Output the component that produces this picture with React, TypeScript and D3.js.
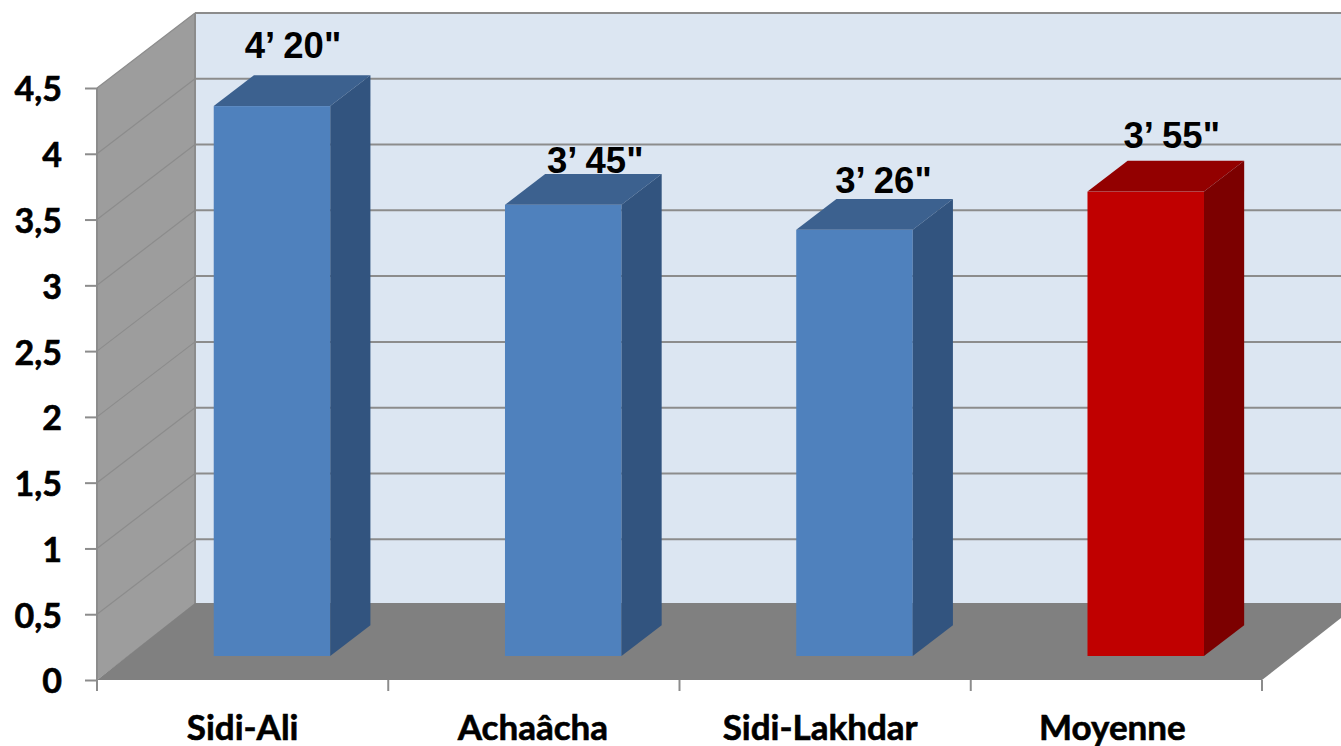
import React, { useEffect, useRef } from "react";
import * as d3 from "d3";

const width = 1341;
const height = 746;

const categories = ["Sidi-Ali", "Achaâcha", "Sidi-Lakhdar", "Moyenne"];
const values = [4.18, 3.43, 3.24, 3.53];
const valueLabels = ["4’ 20\"", "3’ 45\"", "3’ 26\"", "3’ 55\""];
const yTicks = [0, 0.5, 1, 1.5, 2, 2.5, 3, 3.5, 4, 4.5];

// manual label placement, relative to the bar's top front edge
const labelDx = [21, 32, 29, 26];
const labelDy = [-48, -32, -37, -44];
const categoryDx = [0, -1, -5, -4];

const blue = { front: "#4f81bd", side: "#32547f", top: "#3c618f" };
const red = { front: "#c00000", side: "#7c0000", top: "#930000" };

const x = d3.scaleBand<string>().domain(categories).range([97, 1262]).paddingInner(0.6).paddingOuter(0.3);
const y = d3.scaleLinear().domain([0, 4.5]).range([680, 88]);

// depth of the 3d box: 0 = front edge of floor, 1 = back wall
const depthX = d3.scaleLinear().domain([0, 1]).range([0, 98]);
const depthY = d3.scaleLinear().domain([0, 1]).range([0, -75]);
const barDepth = [0.32, 0.73];
const barShift = -2;
const floorBackY = 603;

const pts = (p: number[][]) => p.map((d) => d.join(",")).join(" ");
const commaFormat = d3.formatLocale({
  decimal: ",",
  thousands: " ",
  grouping: [3],
  currency: ["", ""],
}).format("~g");

const App = () => {
  const yAxisRef = useRef<SVGGElement>(null);
  const xAxisRef = useRef<SVGGElement>(null);

  useEffect(() => {
    const yg = d3.select(yAxisRef.current!);
    yg.call(
      d3.axisLeft(y).tickValues(yTicks).tickSize(12).tickPadding(23).tickFormat((d) => commaFormat(+d))
    );
    yg.select(".domain").remove();
    yg.selectAll(".tick line").attr("stroke", "#8c8c8c").attr("stroke-width", 2);
    yg.selectAll("text")
      .attr("fill", "#000")
      .attr("stroke", "#000")
      .attr("stroke-width", 0.6)
      .attr("y", 2)
      .style("font-family", "Lato, 'Open Sans', sans-serif")
      .style("font-weight", 700)
      .style("font-size", "34px");

    const xg = d3.select(xAxisRef.current!);
    xg.call(d3.axisBottom(x).tickSize(0).tickPadding(35));
    xg.select(".domain").remove();
    xg.selectAll("text")
      .attr("fill", "#000")
      .attr("stroke", "#000")
      .attr("stroke-width", 0.6)
      .attr("dx", (_, i) => categoryDx[i])
      .style("font-family", "Lato, 'Open Sans', sans-serif")
      .style("font-weight", 700)
      .style("font-size", "35px");
  }, []);

  const backDx = depthX(1);
  const backDy = depthY(1);
  const edges = d3.range(categories.length + 1).map((i) => 97 + (i * (1262 - 97)) / categories.length);

  return (
    <svg
      width={width}
      height={height}
      style={{ position: "absolute", left: 0, top: 0, background: "#fff" }}
    >
      {/* back wall */}
      <rect
        x={97 + backDx}
        y={y(4.5) + backDy}
        width={width - 97 - backDx}
        height={y(0) - y(4.5)}
        fill="#dce6f2"
      />
      {/* left wall */}
      <polygon
        points={pts([
          [97, y(4.5)],
          [97 + backDx, y(4.5) + backDy],
          [97 + backDx, y(0) + backDy],
          [97, y(0)],
        ])}
        fill="#9d9d9d"
      />
      {/* grid */}
      {yTicks.map((t) => (
        <g key={t} fill="none" stroke="#8c8c8c">
          {t > 0 && (
            <line x1={97} x2={97 + backDx} y1={y(t)} y2={y(t) + backDy} strokeWidth={1.2} />
          )}
          {t > 0 && (
            <line x1={97 + backDx} x2={width} y1={y(t) + backDy} y2={y(t) + backDy} strokeWidth={2} />
          )}
        </g>
      ))}
      <line x1={97 + backDx} x2={97 + backDx} y1={y(4.5) + backDy} y2={y(0) + backDy} stroke="#8c8c8c" strokeWidth={2} />
      {/* floor */}
      <polygon
        points={pts([
          [97, y(0)],
          [1262, y(0)],
          [1262 + backDx, floorBackY],
          [97 + backDx, floorBackY],
        ])}
        fill="#808080"
      />
      {/* axes lines */}
      <line x1={97} x2={97} y1={y(4.5)} y2={691} stroke="#8c8c8c" strokeWidth={2} />
      {edges.map((e) => (
        <line key={e} x1={e} x2={e} y1={680} y2={691} stroke="#8c8c8c" strokeWidth={2} />
      ))}
      {/* bars */}
      {categories.map((c, i) => {
        const bw = x.bandwidth();
        const x0 = x(c)! + depthX(barDepth[0]) + barShift;
        const x1 = x0 + bw;
        const ox = depthX(barDepth[1]) - depthX(barDepth[0]);
        const oy = depthY(barDepth[1]) - depthY(barDepth[0]);
        const yb = y(0) + depthY(barDepth[0]);
        const yt = y(values[i]) + depthY(barDepth[0]);
        const col = c === "Moyenne" ? red : blue;
        return (
          <g key={c}>
            <rect x={x0} y={yt} width={bw} height={yb - yt} fill={col.front} />
            <polygon
              points={pts([
                [x0, yt],
                [x1, yt],
                [x1 + ox, yt + oy],
                [x0 + ox, yt + oy],
              ])}
              fill={col.top}
            />
            <polygon
              points={pts([
                [x1, yt],
                [x1 + ox, yt + oy],
                [x1 + ox, yb + oy],
                [x1, yb],
              ])}
              fill={col.side}
            />
            <text
              x={x0 + bw / 2 + labelDx[i]}
              y={yt + labelDy[i]}
              textAnchor="middle"
              fontFamily="'Liberation Sans', Arial, sans-serif"
              fontWeight={700}
              fontSize={36.5}
              fill="#000"
            >
              {valueLabels[i]}
            </text>
          </g>
        );
      })}
      <g ref={yAxisRef} transform="translate(97,0)" />
      <g ref={xAxisRef} transform="translate(0,680)" />
    </svg>
  );
};

export default App;
